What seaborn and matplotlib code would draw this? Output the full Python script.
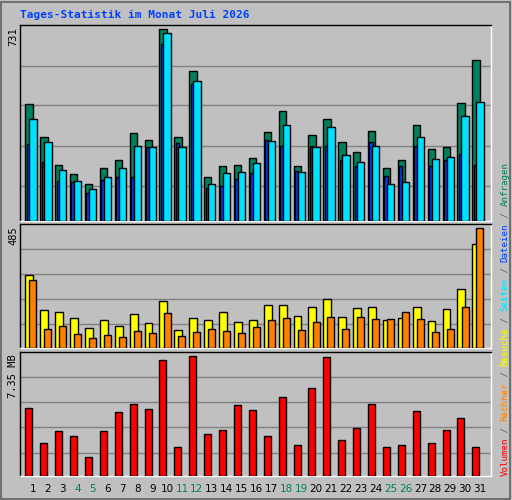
import numpy as np
import pandas as pd
import seaborn as sns
import matplotlib
matplotlib.use("Agg")
import matplotlib.pyplot as plt
from matplotlib.patches import Rectangle

days = list(range(1, 32))
hits = [448,320,213,178,140,204,234,334,311,731,320,574,169,208,213,242,341,418,208,330,391,303,265,345,204,234,368,273,284,452,613]
files = [292,227,154,148,106,158,169,169,284,674,299,521,127,135,162,185,311,288,192,288,288,234,211,303,173,211,288,208,231,257,215]
pages = [391,303,196,154,124,169,204,288,284,716,284,536,143,185,188,223,307,368,188,284,360,250,227,288,143,150,322,238,246,399,456]
visits = [295,154,145,121,81,113,89,137,101,190,73,121,113,145,105,113,174,174,129,166,198,125,162,166,113,121,166,109,158,238,420]
hosts = [275,77,89,57,40,53,44,69,61,141,48,65,77,69,61,85,113,121,73,105,125,77,125,117,117,145,117,65,77,166,485]
volume = [4.15,2.05,2.73,2.48,1.19,2.73,3.90,4.39,4.09,7.10,1.75,7.35,2.55,2.85,4.33,4.02,2.48,4.82,1.93,5.38,7.29,2.18,2.92,4.39,1.75,1.87,3.96,2.05,2.79,3.53,1.75]
weekend = [4,5,11,12,18,19,25,26]
title = "Tages-Statistik im Monat Juli 2026"

sns.set_style("white")
plt.rcParams['font.family'] = ['DejaVu Sans Mono', 'DejaVu Sans']
BG = "#C0C0C0"
W, H = 512, 500
fig = plt.figure(figsize=(5.12, 5.0), dpi=100, facecolor=BG)
fig.patches.append(Rectangle((1/W, 1/H), 1-3/W, 1-3/H, transform=fig.transFigure,
                             fill=False, edgecolor="#606060", lw=1.2))

def axes_px(x0, y0, x1, y1):
    return fig.add_axes([x0/W, 1-y1/H, (x1-x0)/W, (y1-y0)/H])

df = pd.DataFrame(dict(day=days, hits=hits, files=files, pages=pages,
                       visits=visits, hosts=hosts, volume=volume))
XL = (0.128, 31.74)

def style(ax, ymax, grids):
    ax.set_facecolor(BG)
    ax.set_xlim(*XL)
    ax.set_ylim(0, ymax)
    for g in grids:
        ax.axhline(g, color="#808080", lw=1, zorder=0)
    ax.set_xticks([]); ax.set_yticks([])
    ax.set_xlabel(""); ax.set_ylabel("")
    for s in ["left", "top"]:
        ax.spines[s].set_color("black")
    for s in ["right", "bottom"]:
        ax.spines[s].set_color("white")
    for s in ax.spines.values():
        s.set_linewidth(1)
    if ax.get_legend():
        ax.get_legend().remove()

def bars(ax, col, off, width, color):
    d = pd.DataFrame({"x": df["day"] + off, "y": df[col]})
    sns.barplot(data=d, x="x", y="y", native_scale=True, width=width, color=color,
                edgecolor="black", linewidth=1, saturation=1, ax=ax, zorder=3)

ax1 = axes_px(20, 25, 491, 221)
bars(ax1, "hits", -0.27, 0.49, "#00805C")
bars(ax1, "files", -0.31, 0.22, "#0040FF")
bars(ax1, "pages", 0.0, 0.49, "#00E0FF")
style(ax1, 748, [593, 441, 288, 135])

ax2 = axes_px(20, 224, 491, 348)
bars(ax2, "visits", -0.25, 0.53, "#FFFF00")
bars(ax2, "hosts", 0.0, 0.47, "#FF8000")
style(ax2, 502, [400, 299, 198, 97])

ax3 = axes_px(20, 352, 491, 476)
bars(ax3, "volume", -0.28, 0.47, "#FF0000")
style(ax3, 7.60, [6.06, 4.52, 2.98, 1.44])

fig.text(20/W, 1-15/H, title, color="#0040FF", fontsize=8, fontweight="bold",
         va="center", ha="left")
for y, s in [(27, "731"), (226, "485"), (354, "7.35 MB")]:
    fig.text(13/W, 1-y/H, s, rotation=90, ha="center", va="top", fontsize=7.5, color="black")

for d in days:
    x = 20 + (d - XL[0]) / (XL[1] - XL[0]) * 471
    fig.text(x/W, 1-489/H, str(d), ha="center", va="center", fontsize=7.5,
             family="DejaVu Sans",
             color="#00805C" if d in weekend else "black")

parts = [("Volumen", "#FF0000"), (" / ", "#606060"), ("Rechner", "#FF8000"), (" / ", "#606060"),
         ("Besuche", "#FFFF00"), (" / ", "#606060"), ("Seiten", "#00E0FF"), (" / ", "#606060"),
         ("Dateien", "#0040FF"), (" / ", "#606060"), ("Anfragen", "#00805C")]
y = 476
cw = 5.5
for s, c in parts:
    fig.text(505/W, 1-y/H, s, rotation=90, ha="center", va="bottom", fontsize=6.6,
             color=c)
    y -= cw * len(s)

fig.savefig("out.png", dpi=100, facecolor=BG)
